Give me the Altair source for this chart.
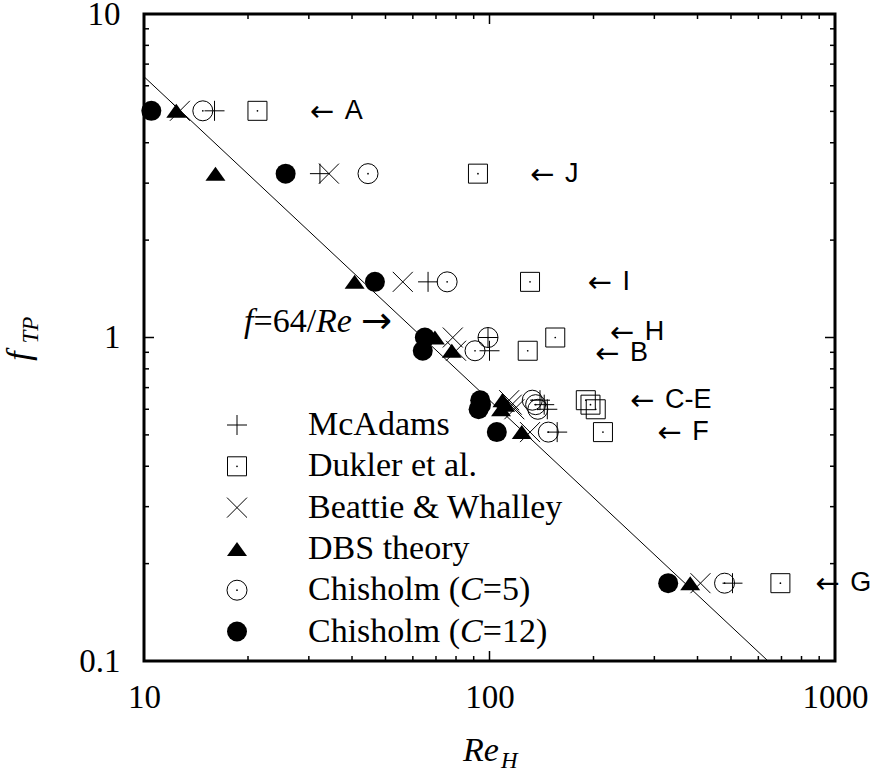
import altair as alt
import pandas as pd

# ---------------- data ----------------
series = ["McAdams", "Dukler et al.", "Beattie & Whalley", "DBS theory",
          "Chisholm (C=5)", "Chisholm (C=12)"]
cases = ["A", "J", "I", "H", "B", "C", "D", "E", "F", "G"]
f_tp = [5.02, 3.21, 1.486, 1.0, 0.91, 0.64, 0.62, 0.60, 0.51, 0.174]

re_mcadams = [16.0, 32.3, 66.4, 99.0, 100.0, 140, 144, 147, 157, 505]
re_dukler = [21.3, 92.6, 131, 155, 129, 190, 196, 203, 213, 695]
re_beattie = [12.7, 34.3, 56.1, 78.3, 80.0, 114, 116, 118, 131, 408]
re_dbs = [12.4, 16.1, 40.7, 69.5, 77.8, 109, 111, 108, 124, 381]
re_c5 = [14.8, 44.5, 75.4, 99.0, 90.8, 133, 136, 138, 148, 479]
re_c12 = [10.5, 25.7, 46.6, 65.0, 64.1, 94.0, 94.5, 93.0, 105, 329]

case_label_text = ["A", "J", "I", "H", "B", "C-E", "F", "G"]
case_label_re = [30.2, 131, 192, 223, 202, 255, 306, 877]
case_label_f = [5.02, 3.21, 1.486, 1.04, 0.895, 0.64, 0.51, 0.174]

line_re = [10, 640]          # f = 64/Re
annot_re = [53.3]
annot_f = [1.117]

x_major = [10, 100, 1000]
x_minor = [20, 30, 40, 50, 60, 70, 80, 90, 200, 300, 400, 500, 600, 700, 800, 900]
y_major = [0.1, 1, 10]
y_minor = [0.2, 0.3, 0.4, 0.5, 0.6, 0.7, 0.8, 0.9, 2, 3, 4, 5, 6, 7, 8, 9]

# ---------------- layout ----------------
W, H = 691, 647
SERIF = "Liberation Serif"
SANS = "Liberation Sans"
ARROWFONT = "DejaVu Sans"
FS = 34

xscale = alt.Scale(type="log", domain=[10, 1000])
yscale = alt.Scale(type="log", domain=[0.1, 10])
xaxis = alt.Axis(values=x_major, format="~g", title=None, labelPadding=20,
                 labelFlush=False, labelOverlap=False)
yaxis = alt.Axis(values=y_major, format="~g", title=None, labelPadding=24,
                 labelFlush=False, labelOverlap=False)


def X(field):
    return alt.X(field, type="quantitative", scale=xscale, axis=xaxis)


def Y(field):
    return alt.Y(field, type="quantitative", scale=yscale, axis=yaxis)


rows = []
for s, res in zip(series, [re_mcadams, re_dukler, re_beattie, re_dbs, re_c5, re_c12]):
    for c, f, r in zip(cases, f_tp, res):
        rows.append({"series": s, "case": c, "f": f, "re": r})
pts = pd.DataFrame(rows)

styles = {
    "McAdams": dict(shape="M-1,0H1M0,-1V1", filled=False, size=400),
    "Dukler et al.": dict(shape="square", filled=False, size=361),
    "Beattie & Whalley": dict(shape="M-1,-1L1,1M-1,1L1,-1", filled=False, size=400),
    "DBS theory": dict(shape="M-1,0.7L1,0.7L0,-0.7Z", filled=True, size=400),
    "Chisholm (C=5)": dict(shape="circle", filled=False, size=400),
    "Chisholm (C=12)": dict(shape="circle", filled=True, size=400),
}
dotted = ["Dukler et al.", "Chisholm (C=5)"]

layers = []

# 64/Re line
line_df = pd.DataFrame({"re": line_re})
layers.append(
    alt.Chart(line_df).transform_calculate(f="64 / datum.re")
    .mark_line(color="black", strokeWidth=1, clip=True)
    .encode(x=X("re"), y=Y("f"))
)


# ticks (inward)
def ticks(vals, side, length):
    df = pd.DataFrame({"v": vals})
    base = alt.Chart(df).mark_rule(color="black", strokeWidth=1.5)
    if side == "bottom":
        return base.encode(x=X("v"), y=alt.value(H), y2=alt.value(H - length))
    if side == "top":
        return base.encode(x=X("v"), y=alt.value(0), y2=alt.value(length))
    if side == "left":
        return base.encode(y=Y("v"), x=alt.value(0), x2=alt.value(length))
    return base.encode(y=Y("v"), x=alt.value(W), x2=alt.value(W - length))


for side in ["bottom", "top"]:
    layers.append(ticks(x_major, side, 10))
    layers.append(ticks(x_minor, side, 5))
for side in ["left", "right"]:
    layers.append(ticks(y_major, side, 10))
    layers.append(ticks(y_minor, side, 5))

# data points
for s in series:
    st = styles[s]
    layers.append(
        alt.Chart(pts).transform_filter(alt.datum.series == s)
        .mark_point(shape=st["shape"], filled=st["filled"], size=st["size"],
                    color="black", strokeWidth=1, opacity=1,
                    fillOpacity=1 if st["filled"] else 0)
        .encode(x=X("re"), y=Y("f"))
    )
    if s in dotted:
        layers.append(
            alt.Chart(pts).transform_filter(alt.datum.series == s)
            .mark_point(shape="circle", filled=True, size=3, color="black", opacity=1)
            .encode(x=X("re"), y=Y("f"))
        )

# case labels: arrow + letter
lab_df = pd.DataFrame({"t": case_label_text, "re": case_label_re, "f": case_label_f})
layers.append(
    alt.Chart(lab_df).mark_text(text="←", font=ARROWFONT, fontSize=29, align="left",
                                baseline="middle", color="black", dy=1)
    .encode(x=X("re"), y=Y("f"))
)
layers.append(
    alt.Chart(lab_df).mark_text(font=SANS, fontSize=27, align="left", baseline="middle",
                                color="black", dx=35)
    .encode(x=X("re"), y=Y("f"), text="t:N")
)

# f=64/Re annotation
ann_df = pd.DataFrame({"re": annot_re, "f": annot_f})
ann_pieces = [("f", "italic", -151, SERIF, FS), ("=64/", "normal", -141.5, SERIF, FS),
              ("Re", "italic", -79, SERIF, FS), ("→", "normal", -34, ARROWFONT, 37)]
for txt, sty, dx, fnt, fsz in ann_pieces:
    layers.append(
        alt.Chart(ann_df).mark_text(text=txt, font=fnt, fontSize=fsz, fontStyle=sty,
                                    align="left", baseline="middle", dx=dx, color="black")
        .encode(x=X("re"), y=Y("f"))
    )

# legend (manual, inside plot)
tw = {"C": 667, "h": 500, "i": 278, "s": 389, "o": 500, "l": 278, "m": 778,
      " ": 250, "(": 333}


def twidth(s):
    return sum(tw.get(ch, 500) for ch in s) * FS / 1000.0


LX_SYM, LX_TXT, LY0, LDY = 93, 164, 411, 41.3
for i, s in enumerate(series):
    st = styles[s]
    yy = LY0 + LDY * i
    layers.append(
        alt.Chart(pd.DataFrame({"s": [s]}))
        .mark_point(shape=st["shape"], filled=st["filled"], size=st["size"], color="black",
                    strokeWidth=1, opacity=1, fillOpacity=1 if st["filled"] else 0)
        .encode(x=alt.value(LX_SYM), y=alt.value(yy))
    )
    if s in dotted:
        layers.append(
            alt.Chart(pd.DataFrame({"s": [s]}))
            .mark_point(shape="circle", filled=True, size=3, color="black", opacity=1)
            .encode(x=alt.value(LX_SYM), y=alt.value(yy))
        )
    if "(C=" in s:
        head, rest = s.split("C=")
        pieces = [(head, "normal", 0), ("C", "italic", twidth(head)),
                  ("=" + rest, "normal", twidth(head) + 667 * FS / 1000.0)]
    else:
        pieces = [(s, "normal", 0)]
    for txt, sty, dx in pieces:
        layers.append(
            alt.Chart(pd.DataFrame({"s": [s]}))
            .mark_text(text=txt, font=SERIF, fontSize=FS, fontStyle=sty, align="left",
                       baseline="middle", color="black")
            .encode(x=alt.value(LX_TXT + dx), y=alt.value(yy))
        )

# axis titles with subscripts
one = pd.DataFrame({"k": [0]})
layers.append(alt.Chart(one).mark_text(text="Re", font=SERIF, fontSize=FS, fontStyle="italic",
                                       align="left", baseline="alphabetic", color="black")
              .encode(x=alt.value(319), y=alt.value(747)))
layers.append(alt.Chart(one).mark_text(text="H", font=SERIF, fontSize=23, fontStyle="italic",
                                       align="left", baseline="alphabetic", color="black")
              .encode(x=alt.value(357), y=alt.value(754)))
layers.append(alt.Chart(one).mark_text(text="f", font=SERIF, fontSize=FS, fontStyle="italic",
                                       angle=270, align="center", baseline="alphabetic",
                                       color="black")
              .encode(x=alt.value(-114), y=alt.value(342)))
layers.append(alt.Chart(one).mark_text(text="TP", font=SERIF, fontSize=23, fontStyle="italic",
                                       angle=270, align="center", baseline="alphabetic",
                                       color="black")
              .encode(x=alt.value(-106), y=alt.value(316)))

chart = (
    alt.layer(*layers)
    .properties(width=W, height=H, autosize="none",
                padding={"left": 144, "top": 14, "right": 43, "bottom": 110})
    .configure_view(stroke="black", strokeWidth=3)
    .configure_axis(domain=False, ticks=False, tickSize=0, grid=False,
                    labelFont=SERIF, labelFontSize=33, labelColor="black")
)

chart.save("out.html", embed_options={"renderer": "svg", "actions": False})
